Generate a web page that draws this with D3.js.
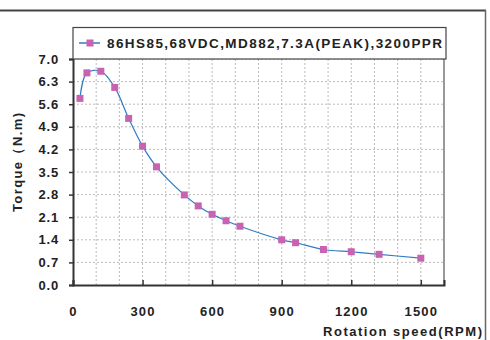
<!DOCTYPE html>
<html><head><meta charset="utf-8">
<script src="https://cdn.jsdelivr.net/npm/d3@7"></script>
<style>
html,body{margin:0;padding:0;background:#fff;}
svg text{font-family:"Liberation Sans",Arial,sans-serif;font-weight:bold;fill:#222;}
</style></head>
<body><svg id="c" width="490" height="340"></svg>
<script>
const seriesName = "86HS85,68VDC,MD882,7.3A(PEAK),3200PPR";
const speeds = [30,60,120,180,240,300,360,480,540,600,660,720,900,960,1080,1200,1320,1500];
const torques = [5.78,6.57,6.62,6.12,5.16,4.30,3.66,2.79,2.45,2.19,1.99,1.82,1.40,1.31,1.10,1.03,0.95,0.83];
const yTicks = [0.0,0.7,1.4,2.1,2.8,3.5,4.2,4.9,5.6,6.3,7.0];
const xTicks = [0,300,600,900,1200,1500];
const xGrid = d3.range(100,1600,100);
const xTitle = "Rotation speed(RPM)";
const yTitle = "Torque\uFF08N.m)";

const svg = d3.select("#c");
const L=73, R=444, T=59, B=285;
const x = d3.scaleLinear().domain([0,1600]).range([L,R]);
const y = d3.scaleLinear().domain([0,7]).range([B,T]);

// outer frame
svg.append("line").attr("x1",0).attr("x2",486).attr("y1",10.5).attr("y2",10.5).attr("stroke","#444").attr("stroke-width",2);
svg.append("line").attr("x1",485.5).attr("x2",485.5).attr("y1",10).attr("y2",340).attr("stroke","#666").attr("stroke-width",1.5);

// grid
svg.append("g").selectAll("line").data(xGrid).join("line")
  .attr("x1",d=>x(d)).attr("x2",d=>x(d)).attr("y1",T).attr("y2",B)
  .attr("stroke","#bbb").attr("stroke-width",1).attr("stroke-dasharray","2,2");
svg.append("g").selectAll("line").data(yTicks.slice(1)).join("line")
  .attr("x1",L).attr("x2",R).attr("y1",d=>y(d)).attr("y2",d=>y(d))
  .attr("stroke","#bbb").attr("stroke-width",1).attr("stroke-dasharray","2,2");

// plot right border
svg.append("line").attr("x1",R).attr("x2",R).attr("y1",T).attr("y2",B).attr("stroke","#777").attr("stroke-width",1.5);

// y axis
const ya = d3.axisLeft(y).tickValues(yTicks).tickFormat(d3.format(".1f")).tickSize(4).tickPadding(6);
const gy = svg.append("g").attr("transform",`translate(${L},0)`).call(ya);
gy.select(".domain").attr("stroke","#333").attr("stroke-width",2);
gy.selectAll(".tick line").attr("stroke","#333").attr("stroke-width",1.5);
gy.selectAll(".tick text").attr("font-size",13).attr("font-family","Liberation Sans, Arial, sans-serif").attr("font-weight","bold").attr("fill","#222").attr("letter-spacing","0.8px").attr("dx",-4);

// x axis
const xa = d3.axisBottom(x).tickValues(xTicks).tickFormat(d3.format("d")).tickSize(-5).tickPadding(22);
const gx = svg.append("g").attr("transform",`translate(0,${B})`).call(xa);
gx.select(".domain").attr("stroke","#333").attr("stroke-width",2);
gx.selectAll(".tick line").attr("stroke","#333").attr("stroke-width",1.5);
gx.selectAll(".tick text").attr("font-size",13).attr("font-family","Liberation Sans, Arial, sans-serif").attr("font-weight","bold").attr("fill","#222").attr("letter-spacing","1.2px");

// line
const data = speeds.map((s,i)=>({s,t:torques[i]}));
svg.append("path").datum(data)
  .attr("d", d3.line().x(d=>x(d.s)).y(d=>y(d.t)).curve(d3.curveCatmullRom.alpha(0.5)))
  .attr("fill","none").attr("stroke","#2f7cc4").attr("stroke-width",1.2);
svg.append("g").selectAll("rect").data(data).join("rect")
  .attr("x",d=>x(d.s)-3.5).attr("y",d=>y(d.t)-3.5).attr("width",7).attr("height",7)
  .attr("fill","#c863b1");

// legend
svg.append("rect").attr("x",L).attr("y",27.5).attr("width",373).attr("height",31.5)
  .attr("fill","#fff").attr("stroke","#444").attr("stroke-width",1.2);
svg.append("line").attr("x1",79).attr("x2",100).attr("y1",43).attr("y2",43).attr("stroke","#2f7cc4").attr("stroke-width",1.5);
svg.append("rect").attr("x",86.5).attr("y",39.5).attr("width",7).attr("height",7).attr("fill","#c863b1");
svg.append("text").attr("x",107).attr("y",47.5).attr("font-size",13.5)
  .attr("textLength",335).attr("lengthAdjust","spacing").text(seriesName);

// titles
svg.append("text").attr("x",323).attr("y",335.5).attr("font-size",13)
  .attr("textLength",159).attr("lengthAdjust","spacing").text(xTitle);
svg.append("text").attr("transform","translate(22,212) rotate(-90)").attr("font-size",13)
  .attr("textLength",99).attr("lengthAdjust","spacing").text(yTitle);
</script></body></html>
